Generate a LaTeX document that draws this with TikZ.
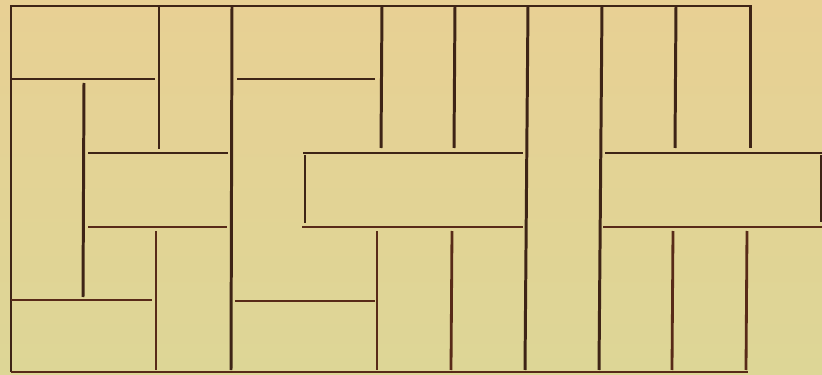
\documentclass[tikz,border=0pt]{standalone}
\definecolor{paper}{RGB}{232,208,148}
\definecolor{paperlow}{RGB}{221,214,150}
\definecolor{ink}{RGB}{62,36,22}
\definecolor{inklow}{RGB}{88,42,24}
\usepackage{tikz}

\begin{document}
\begin{tikzpicture}[
    x=0.02cm, y=-0.02cm,
    wall/.style={ink, line width=1.7pt, line cap=butt},
    walllow/.style={inklow, line width=1.6pt, line cap=butt},
  ]
    % paper
    \shade[top color=paper, bottom color=paperlow] (0,0) rectangle (822,375);
    \useasboundingbox (0,0) rectangle (822,375);

    % outer frame
    \draw[wall] (750,148) -- (750,6) -- (11,6) -- (11,372);
    \draw[walllow] (11,372) -- (748,372);

    % left block
    \draw[wall] (159,6) -- (159,149);
    \draw[wall] (232,6) -- (231,370);
    \draw[wall] (11,79) -- (155,79);
    \draw[wall] (84,83) -- (83,297);
    \draw[wall] (88,153) -- (228,153);
    \draw[walllow] (88,227) -- (227,227);
    \draw[walllow] (156,231) -- (156,370);
    \draw[walllow] (11,300) -- (152,300);

    % middle block
    \draw[wall] (237,79) -- (375,79);
    \draw[walllow] (235,301) -- (375,301);
    \draw[wall] (382,6) -- (381,148);
    \draw[wall] (455,6) -- (454,148);
    \draw[wall] (528,6) -- (525,370);
    \draw[wall] (303,153) -- (523,153);
    \draw[wall] (305,155) -- (305,223);
    \draw[walllow] (302,227) -- (523,227);
    \draw[walllow] (377,231) -- (377,370);
    \draw[walllow] (452,231) -- (451,370);

    % right block
    \draw[wall] (602,6) -- (599,370);
    \draw[wall] (676,6) -- (675,148);
    \draw[wall] (605,153) -- (822,153);
    \draw[wall] (821,155) -- (821,222);
    \draw[walllow] (603,227) -- (822,227);
    \draw[walllow] (673,231) -- (672,370);
    \draw[walllow] (747,231) -- (746,370);
  \end{tikzpicture}
\end{document}
